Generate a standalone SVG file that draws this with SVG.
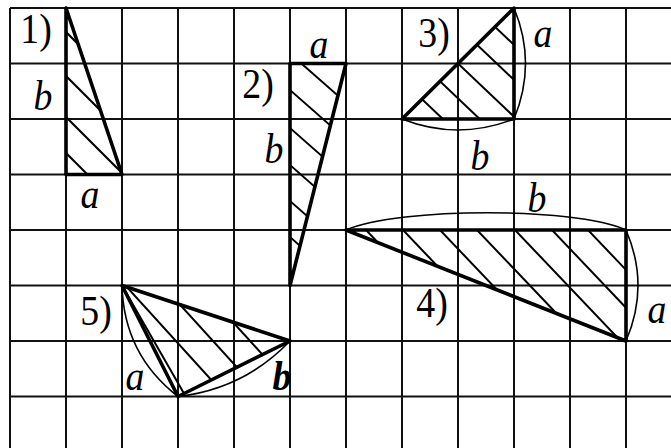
<svg xmlns="http://www.w3.org/2000/svg" width="671" height="448" viewBox="0 0 671 448">
<style>
.grid{fill:none;stroke:#111;stroke-width:2}
.edge{fill:none;stroke:#000;stroke-width:3.6;stroke-linejoin:round}
.hatch{fill:none;stroke:#000;stroke-width:2}
.arc{fill:none;stroke:#000;stroke-width:1.6}
text{font-family:"Liberation Serif","Times New Roman",serif;font-size:42px;fill:#000;text-anchor:middle}
.it{font-style:italic}
.bd{font-weight:bold}
</style>
<defs>
<clipPath id="c1"><polygon points="66,8 66,174.5 122,174.5"/></clipPath>
<clipPath id="c2"><polygon points="290,63.5 346,63.5 290,285.5"/></clipPath>
<clipPath id="c3"><polygon points="402,119 514,119 514,8"/></clipPath>
<clipPath id="c4"><polygon points="346,230 626,230 626,341"/></clipPath>
<clipPath id="c5"><polygon points="122,285.5 290,341 178,396.5"/></clipPath>
</defs>
<rect width="671" height="448" fill="#fff"/>
<g id="grid">
<path class="grid" d="M10,8V448M66,8V448M122,8V448M178,8V448M234,8V448M290,8V448M346,8V448M402,8V448M458,8V448M514,8V448M570,8V448M626,8V448
M10,8H671M10,63.5H671M10,119H671M10,174.5H671M10,230H671M10,285.5H671M10,341H671M10,396.5H671"/>
</g>
<g id="fig1">
<g clip-path="url(#c1)"><path class="hatch" d="M-54,-88L186,152M-54,-44L186,196M-54,-3L186,237M-54,33L186,273"/></g>
<polygon class="edge" points="66,8 66,174.5 122,174.5"/>
<text transform="translate(36,43) scale(0.9,1)">1)</text>
<text class="it" transform="translate(43,110) scale(0.9,1)">b</text>
<text class="it" transform="translate(90,208) scale(0.9,1)">a</text>
</g>
<g id="fig2">
<g clip-path="url(#c2)"><path class="hatch" d="M170,-52.1L410,159.1M170,-15.6L410,195.6M170,22.4L410,233.6M170,59.4L410,270.6M170,95.4L410,306.6M170,131.4L410,342.6"/></g>
<polygon class="edge" points="290,63.5 346,63.5 290,285.5"/>
<text class="it" transform="translate(319,58) scale(0.9,1)">a</text>
<text transform="translate(258,98) scale(0.9,1)">2)</text>
<text class="it" transform="translate(274,163) scale(0.9,1)">b</text>
</g>
<g id="fig3">
<g clip-path="url(#c3)"><path class="hatch" d="M375,-87.2L615,140.8M357,-69.3L597,158.7M338,-50.5L578,177.5M320,-32.7L560,195.3M302,-14.8L542,213.2"/></g>
<polygon class="edge" points="402,119 514,119 514,8"/>
<path class="arc" d="M514,8Q537,63.5 514,119M402,119Q458,141 514,119"/>
<text transform="translate(434,47) scale(0.9,1)">3)</text>
<text class="it" transform="translate(543,47) scale(0.9,1)">a</text>
<text class="it" transform="translate(480,170) scale(0.9,1)">b</text>
</g>
<g id="fig4">
<g clip-path="url(#c4)"><path class="hatch" d="M216,72.5L516,387.5M253,72.5L553,387.5M290,72.5L590,387.5M327,72.5L627,387.5M365,72.5L665,387.5M402,72.5L702,387.5M438,72.5L738,387.5"/></g>
<polygon class="edge" points="346,230 626,230 626,341"/>
<path class="arc" d="M346,230C400,207 575,207 626,230M626,230Q650,285.5 626,341"/>
<text class="it" transform="translate(537,212) scale(0.9,1)">b</text>
<text class="it" transform="translate(657,323) scale(0.9,1)">a</text>
<text transform="translate(432,317) scale(0.9,1)">4)</text>
</g>
<g id="fig5">
<g clip-path="url(#c5)"><path class="hatch" d="M27,177.2L227,397.2M80,194.7L280,414.7M133,212.2L333,432.2M122,285.5L184,393.5"/></g>
<polygon class="edge" points="122,285.5 290,341 178,396.5"/>
<path class="arc" d="M122,285.5Q123.8,354.6 178,396.5M178,396.5Q244,389 290,341"/>
<text transform="translate(96,325) scale(0.9,1)">5)</text>
<text class="it" transform="translate(135,390) scale(0.9,1)">a</text>
<text class="it bd" transform="translate(282,390) scale(0.9,1)">b</text>
</g>
</svg>
